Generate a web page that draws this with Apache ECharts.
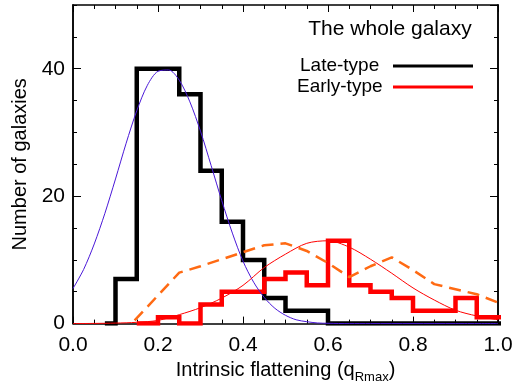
<!DOCTYPE html>
<html>
<head>
<meta charset="utf-8">
<script src="https://cdn.jsdelivr.net/npm/echarts@6/dist/echarts.min.js"></script>
<style>
  html, body { margin: 0; padding: 0; background: #fff; }
  #main { width: 516px; height: 389px; }
</style>
</head>
<body>
<div id="main"></div>
<script>
// 直方图的分箱中心 (宽 0.05)
var binCenters = [0.075, 0.125, 0.175, 0.225, 0.275, 0.325, 0.375, 0.425, 0.475, 0.525,
  0.575, 0.625, 0.675, 0.725, 0.775, 0.825, 0.875, 0.925, 0.975, 1.025]
var lateCounts = [0, 7, 40, 40, 36, 24, 16, 10, 4, 2, 2, 0, 0, 0, 0, 0, 0, 0, 0, 0]
var earlyCounts = [null, null, 0, 1, 0, 3, 5, 5, 7, 8, 6, 13, 6, 5, 4, 2, 2, 4, 1, 1]

// 蓝色拟合曲线 (late-type)
var lateFitX = [0, 0.025, 0.05, 0.075, 0.1, 0.125, 0.15, 0.175, 0.2, 0.225, 0.25, 0.275, 0.3,
  0.325, 0.35, 0.375, 0.4, 0.425, 0.45, 0.475, 0.5, 0.525, 0.55, 0.575, 0.6, 0.65, 0.7, 0.8, 0.9, 1.0]
var lateFitY = [5.5, 8.5, 12.5, 17.3, 22.7, 28.3, 33.4, 37.4, 39.6, 39.8, 38.2, 34.8, 30.2,
  24.8, 19.3, 14.2, 9.8, 6.5, 4.1, 2.4, 1.3, 0.6, 0.3, 0.1, 0.05, 0, 0, 0, 0, 0]

// 红色拟合曲线 (early-type)
var earlyFitX = [0, 0.05, 0.1, 0.15, 0.2, 0.25, 0.3, 0.35, 0.4, 0.45, 0.5, 0.55, 0.6, 0.65,
  0.7, 0.75, 0.8, 0.85, 0.9, 0.95, 1.0]
var earlyFitY = [0, 0.03, 0.08, 0.2, 0.5, 1.4, 2.5, 4.0, 6.0, 8.8, 10.9, 12.6, 13.0, 12.0,
  10.1, 7.9, 5.6, 3.7, 2.1, 1.2, 0.6]

// 橙色虚线
var dashX = [0.145, 0.25, 0.30, 0.35, 0.40, 0.45, 0.50, 0.55, 0.60, 0.65, 0.70, 0.75, 0.80,
  0.85, 0.90, 0.95, 1.0]
var dashY = [0.5, 8.0, 9.0, 10.1, 11.2, 12.3, 12.6, 11.4, 9.5, 7.3, 9.0, 10.4, 8.4,
  6.2, 5.4, 4.6, 3.3]

var xTicks = [0, 0.2, 0.4, 0.6, 0.8, 1.0]
var yTicks = [0, 20, 40]

var FONT = 'Liberation Sans'

function pairs(xs, ys) {
  return xs.map(function (x, i) { return [x, ys[i]] })
}

var myChart = echarts.init(document.getElementById('main'))

function xAx(pos, withLabel) {
  return {
    type: 'value', position: pos, min: xTicks[0], max: xTicks[xTicks.length - 1], interval: 0.2,
    axisLine: { show: true, onZero: false, lineStyle: { color: '#000', width: 1.5 } },
    axisTick: { show: true, inside: true, length: 7, lineStyle: { color: '#000', width: 1 } },
    minorTick: { show: true, splitNumber: 4, length: 4, lineStyle: { color: '#000', width: 1 } },
    splitLine: { show: false },
    axisLabel: {
      show: withLabel, margin: 11, color: '#000', fontSize: 21, fontFamily: FONT,
      formatter: function (v) { return v.toFixed(1) }
    },
    name: withLabel ? '{m|Intrinsic flattening (q}{s|Rmax}{m|)}' : '',
    nameLocation: 'middle', nameGap: 33,
    nameTextStyle: {
      color: '#000', fontFamily: FONT, fontSize: 20,
      rich: {
        m: { fontSize: 20, fontFamily: FONT, color: '#000', lineHeight: 22, verticalAlign: 'top' },
        s: { fontSize: 13, fontFamily: FONT, color: '#000', lineHeight: 34 }
      }
    }
  }
}

function yAx(pos, step, len, withLabel) {
  return {
    type: 'value', position: pos, min: 0, max: 50, interval: step,
    axisLine: { show: true, onZero: false, lineStyle: { color: '#000', width: 1.5 } },
    axisTick: { show: true, inside: true, length: len, lineStyle: { color: '#000', width: 1 } },
    splitLine: { show: false },
    axisLabel: {
      show: withLabel, margin: 8, color: '#000', fontSize: 21, fontFamily: FONT,
      showMaxLabel: false,
      formatter: function (v) { return yTicks.indexOf(v) >= 0 ? String(v) : '' }
    },
    name: withLabel ? 'Number of galaxies' : '',
    nameLocation: 'middle', nameGap: 42, nameRotate: 90,
    nameTextStyle: { color: '#000', fontFamily: FONT, fontSize: 20 }
  }
}

var options = {
  animation: false,
  backgroundColor: '#fff',
  grid: { left: 73, right: 18, top: 5, bottom: 60 },
  xAxis: [xAx('bottom', true), xAx('top', false)],
  yAxis: [
    yAx('left', 20, 8, true),
    yAx('left', 5, 4, false),
    yAx('right', 20, 8, false),
    yAx('right', 5, 4, false)
  ],
  series: [
    {
      type: 'line', step: 'middle', showSymbol: false, z: 3,
      data: pairs(binCenters, lateCounts),
      lineStyle: { color: '#000', width: 4.5, join: 'miter' }
    },
    {
      type: 'line', step: 'middle', showSymbol: false, z: 4,
      data: pairs(binCenters, earlyCounts),
      lineStyle: { color: '#ff0000', width: 4.5, join: 'miter' }
    },
    {
      type: 'line', showSymbol: false, z: 5,
      data: pairs(dashX, dashY),
      lineStyle: { color: '#ff6a13', width: 2.5, type: [12, 7] }
    },
    {
      type: 'line', showSymbol: false, smooth: 0.3, z: 6,
      data: pairs(lateFitX, lateFitY),
      lineStyle: { color: '#4a18d8', width: 1 }
    },
    {
      type: 'line', showSymbol: false, smooth: 0.3, z: 6,
      data: pairs(earlyFitX, earlyFitY),
      lineStyle: { color: '#ff0000', width: 1 }
    }
  ],
  graphic: [
    { type: 'text', x: 390, y: 29, style: { text: 'The whole galaxy', font: '21px ' + FONT, fill: '#000', align: 'center', verticalAlign: 'middle', textAlign: 'center', textVerticalAlign: 'middle' } },
    { type: 'text', x: 300, y: 66, style: { text: 'Late-type', font: '19px ' + FONT, fill: '#000', align: 'left', verticalAlign: 'middle', textAlign: 'left', textVerticalAlign: 'middle' } },
    { type: 'line', shape: { x1: 393, y1: 66, x2: 473, y2: 66 }, style: { stroke: '#000', lineWidth: 3 } },
    { type: 'text', x: 297, y: 87, style: { text: 'Early-type', font: '19px ' + FONT, fill: '#000', align: 'left', verticalAlign: 'middle', textAlign: 'left', textVerticalAlign: 'middle' } },
    { type: 'line', shape: { x1: 393, y1: 87, x2: 473, y2: 87 }, style: { stroke: '#ff0000', lineWidth: 3 } }
  ]
}

myChart.setOption(options)
</script>
</body>
</html>
